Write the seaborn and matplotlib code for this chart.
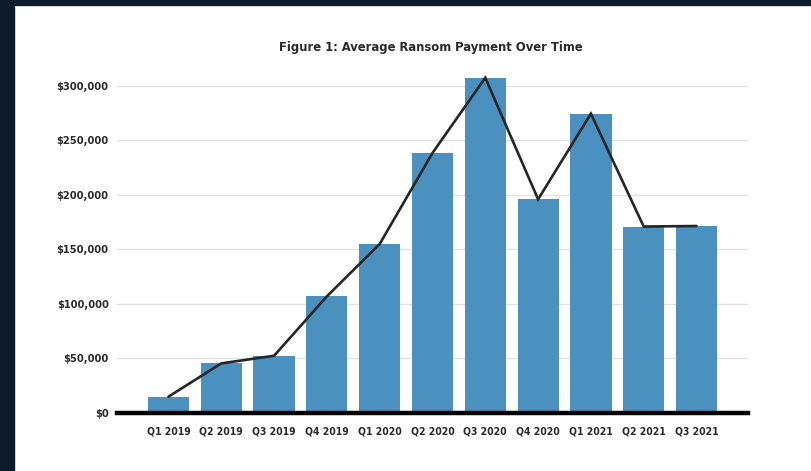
import matplotlib
matplotlib.use("Agg")
import matplotlib.pyplot as plt
import matplotlib.patches as mpatches
from matplotlib import font_manager as fm
from matplotlib.ticker import FuncFormatter
import seaborn as sns
import numpy as np
import pandas as pd

quarters = ["Q1 2019", "Q2 2019", "Q3 2019", "Q4 2019", "Q1 2020", "Q2 2020",
            "Q3 2020", "Q4 2020", "Q1 2021", "Q2 2021", "Q3 2021"]
payments = [15000, 45500, 52500, 107000, 155000, 238500, 307500, 196000, 274500, 171000, 171500]
y_ticks = [0, 50000, 100000, 150000, 200000, 250000, 300000]
title = "Figure 1: Average Ransom Payment Over Time"

sns.set_style("white")

# pick a condensed bold font if one is installed
cond = None
for f in fm.fontManager.ttflist:
    nm = f.name
    if (f.stretch in ("condensed", "semi-condensed", "extra-condensed")
            or "Condensed" in nm or "Narrow" in nm):
        w = f.weight if isinstance(f.weight, int) else 700
        if w >= 600:
            cond = (nm, f.stretch)
            break
if cond:
    fam = [cond[0], "DejaVu Sans"]
    stretch = cond[1]
    ytick_fs, xtick_fs, title_fs = 7.9, 7.5, 9.3
else:
    fam = ["Roboto", "DejaVu Sans"]
    stretch = "normal"
    ytick_fs, xtick_fs, title_fs = 7.2, 6.8, 8.5
plt.rcParams["font.family"] = fam

df = pd.DataFrame({"quarter": quarters, "payment": payments})

fig = plt.figure(figsize=(8.11, 4.71), dpi=100)
fig.patch.set_facecolor("white")
navy = "#0b1a2c"
fig.patches.append(mpatches.Rectangle((0, 0), 14/811, 1, transform=fig.transFigure, color=navy, zorder=0))
fig.patches.append(mpatches.Rectangle((0, 1 - 5/471), 1, 5/471, transform=fig.transFigure, color=navy, zorder=0))

ax = fig.add_axes([117/811, 58/471, (748-117)/811, (413-75)/471])
ax.set_facecolor("white")

sns.barplot(data=df, x="quarter", y="payment", color="#4a91c0", saturation=1,
            width=0.78, ax=ax, zorder=2, linewidth=0)
ax.plot(np.arange(len(quarters)), payments, color="#262626", lw=1.9, zorder=3,
        clip_on=False, solid_joinstyle="miter")

ax.set_xlim(-0.975, len(quarters) - 1 + 0.975)
ax.set_ylim(0, 310000)
ax.set_yticks(y_ticks)
ax.yaxis.set_major_formatter(FuncFormatter(lambda v, p: f"${int(v):,}"))
ax.grid(axis="y", color="#e2e2e2", lw=1, zorder=0)
ax.set_axisbelow(True)
for s in ["top", "right", "left"]:
    ax.spines[s].set_visible(False)
ax.spines["bottom"].set_color("black")
ax.spines["bottom"].set_linewidth(3.2)
ax.spines["bottom"].set_zorder(4)
ax.set_xlabel("")
ax.set_ylabel("")
ax.tick_params(axis="both", length=0, colors="#2a2a2a")
ax.tick_params(axis="y", pad=6)
ax.tick_params(axis="x", pad=10)
for lab in ax.get_yticklabels():
    lab.set_fontsize(ytick_fs)
for lab in ax.get_xticklabels():
    lab.set_fontsize(xtick_fs)
for lab in ax.get_xticklabels() + ax.get_yticklabels():
    lab.set_fontweight("bold")
    lab.set_family(fam)
    lab.set_fontstretch(stretch)

fig.text(431/811, 1 - 47/471, title, ha="center", va="center", fontsize=title_fs,
         fontweight="bold", color="#2a2a2a", family=fam, fontstretch=stretch)

fig.savefig("out.png", dpi=100)
